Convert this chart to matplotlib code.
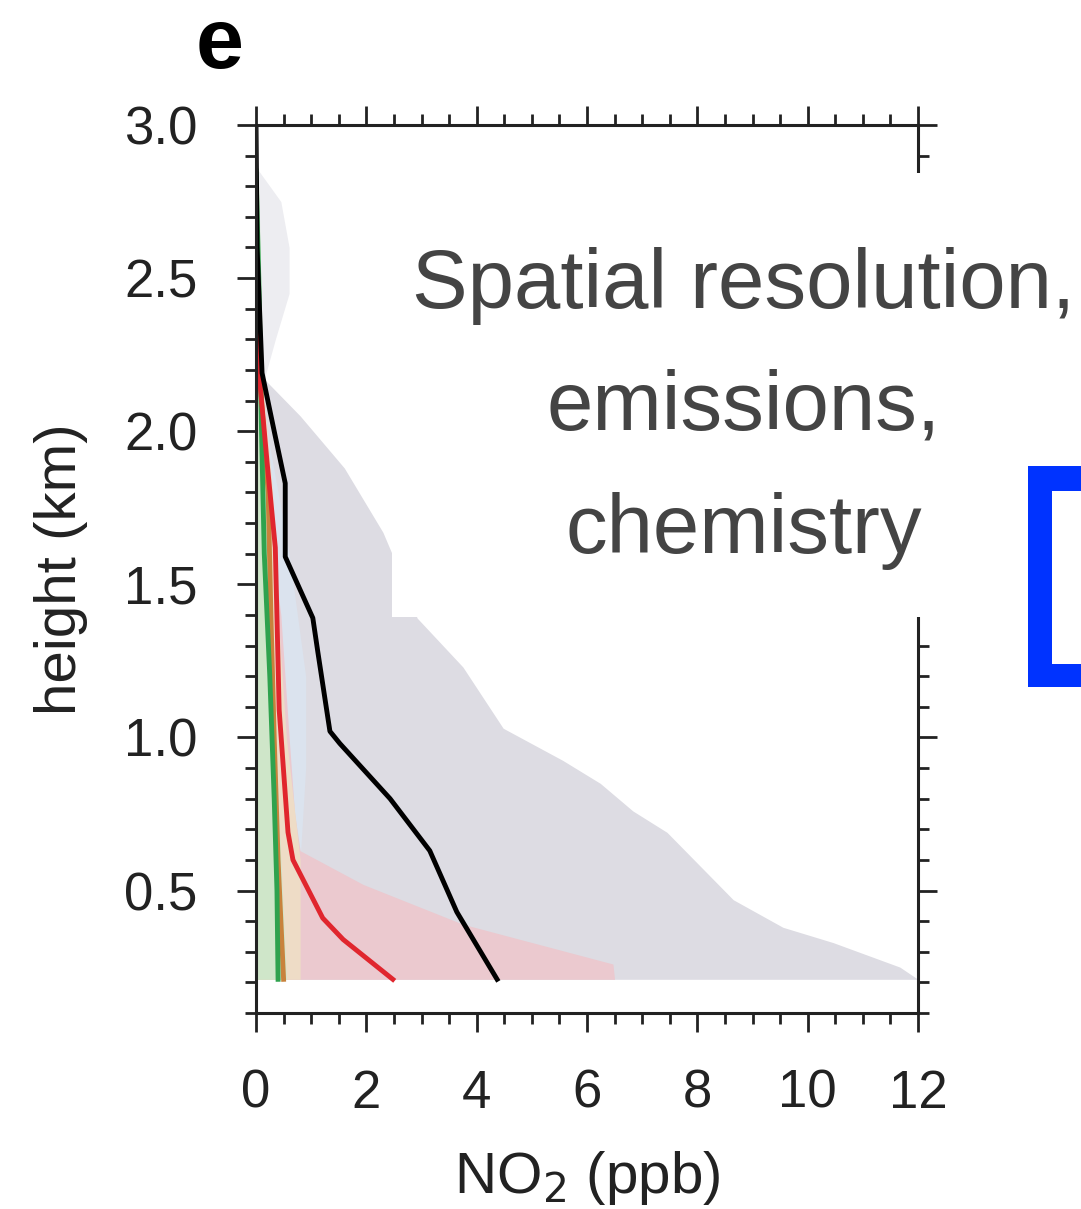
import numpy as np
import matplotlib
matplotlib.use("Agg")
import matplotlib.pyplot as plt
from matplotlib import font_manager
from matplotlib.patches import Rectangle
from matplotlib.ticker import MultipleLocator

# pick a narrow face for the chart text if it is there
names = {f.name for f in font_manager.fontManager.ttflist}
NARROW = "Liberation Sans Narrow" if "Liberation Sans Narrow" in names else "Liberation Sans"

W, H = 1081, 1209

# profiles, height (km) vs NO2 (ppb)
black_h = [3.0, 2.6, 2.19, 2.0, 1.83, 1.59, 1.39, 1.28, 1.02, 0.98, 0.80, 0.63, 0.43, 0.21]
black_x = [0.0, 0.02, 0.11, 0.33, 0.53, 0.53, 1.03, 1.12, 1.34, 1.52, 2.43, 3.15, 3.64, 4.37]

red_h = [2.6, 2.2, 1.9, 1.62, 1.09, 0.69, 0.60, 0.41, 0.34, 0.21]
red_x = [0.0, 0.05, 0.2, 0.35, 0.42, 0.58, 0.67, 1.21, 1.58, 2.48]

orange_h = [2.6, 2.1, 1.8, 1.4, 1.0, 0.6, 0.21]
orange_x = [0.0, 0.1, 0.22, 0.27, 0.33, 0.4, 0.5]

green_h = [2.85, 2.5, 2.0, 1.6, 1.2, 0.8, 0.5, 0.21]
green_x = [0.0, 0.05, 0.1, 0.15, 0.25, 0.33, 0.38, 0.4]

# spread bands (right edge, left edge at 0)
grey_top_h = [2.85, 2.75, 2.6, 2.45, 2.3, 2.17]
grey_top_x = [0.05, 0.45, 0.6, 0.6, 0.35, 0.15]

grey_h = [2.17, 2.05, 1.88, 1.67, 1.5, 1.39, 1.23, 1.03, 0.925,
          0.85, 0.76, 0.69, 0.58, 0.47, 0.38, 0.33, 0.25, 0.21]
grey_x = [0.15, 0.8, 1.6, 2.3, 2.7, 2.92, 3.75, 4.48, 5.56,
          6.24, 6.83, 7.45, 8.05, 8.65, 9.55, 10.46, 11.67, 12.0]

blue_h = [2.0, 1.6, 1.2, 0.9, 0.6, 0.21]
blue_x = [0.2, 0.6, 0.9, 0.9, 0.8, 0.8]

pink_h = [1.9, 1.4, 1.0, 0.75, 0.63, 0.52, 0.39, 0.26, 0.21]
pink_x = [0.1, 0.45, 0.6, 0.7, 0.8, 1.94, 3.75, 6.47, 6.5]

tan_h = [2.2, 1.8, 1.4, 1.0, 0.6, 0.21]
tan_x = [0.1, 0.3, 0.4, 0.55, 0.8, 0.8]

lgreen_h = [2.8, 2.0, 1.2, 0.6, 0.21]
lgreen_x = [0.05, 0.15, 0.3, 0.45, 0.55]

x_ticks = [0, 2, 4, 6, 8, 10, 12]
y_ticks = [0.5, 1.0, 1.5, 2.0, 2.5, 3.0]
y_labels = ["0.5", "1.0", "1.5", "2.0", "2.5", "3.0"]


def px(x0, y0, x1, y1):
    # pixel box -> figure fraction rect
    return (x0 / W, 1 - y1 / H, (x1 - x0) / W, (y1 - y0) / H)


fig = plt.figure(figsize=(W / 100, H / 100), dpi=100)
ax = fig.add_axes([256 / W, 1 - 1013 / H, 662 / W, 888 / H])

ax.fill_betweenx(grey_top_h, 0, grey_top_x, color="#ededf1", lw=0)
ax.fill_betweenx(grey_h, 0, grey_x, color="#dddce3", lw=0)
ax.fill_betweenx(blue_h, 0, blue_x, color="#dbe3ee", lw=0)
ax.fill_betweenx(pink_h, 0, pink_x, color="#ebc9cf", lw=0)
ax.fill_betweenx(tan_h, 0, tan_x, color="#eedcc6", lw=0)
ax.fill_betweenx(lgreen_h, 0, lgreen_x, color="#cfe6c9", lw=0)

ax.plot(orange_x, orange_h, color="#c8823c", lw=3.5)
ax.plot(green_x, green_h, color="#2fa24e", lw=3.5)
ax.plot(red_x, red_h, color="#e0262e", lw=3.5)
ax.plot(black_x, black_h, color="black", lw=3.5)

ax.set_xlim(0, 12)
ax.set_ylim(0.1, 3.0)
ax.set_xticks(x_ticks)
ax.set_yticks(y_ticks, y_labels)
ax.xaxis.set_minor_locator(MultipleLocator(0.5))
ax.yaxis.set_minor_locator(MultipleLocator(0.1))
ax.tick_params(which="both", direction="out", top=True, right=True, width=2, color="#222222")
ax.tick_params(which="major", length=14)
ax.tick_params(which="minor", length=8)
ax.tick_params(axis="x", pad=26, labelsize=38)
ax.tick_params(axis="y", pad=28, labelsize=38)
for lab in ax.get_xticklabels() + ax.get_yticklabels():
    lab.set_family(NARROW)
    lab.set_color("#222222")
for s in ax.spines.values():
    s.set_linewidth(2.2)
    s.set_color("#222222")

ax.set_xlabel("NO$_2$ (ppb)", fontsize=42, family=NARROW, color="#222222", labelpad=22)
ax.set_ylabel("height (km)", fontsize=42, family="Liberation Sans", color="#222222", labelpad=26)

fig.text(220 / W, 1 - 46 / H, "e", fontsize=62, fontweight="bold", family=NARROW,
         ha="center", va="center")

# white box with annotation on top of the panel
bx = px(392, 173, 960, 617)
fig.add_artist(Rectangle(bx[:2], bx[2], bx[3], transform=fig.transFigure,
                         facecolor="white", edgecolor="none", zorder=5))
lines = ["Spatial resolution,", "emissions,", "chemistry"]
baselines = [308, 430, 553]
for t, yb in zip(lines, baselines):
    fig.text(744 / W, 1 - yb / H, t, fontsize=60, family="Liberation Sans", color="#444444",
             ha="center", va="baseline", zorder=6)

# blue bracket
blue = "#0033ff"
for box in [(1028, 466, 1052, 687), (1028, 466, 1081, 491), (1028, 664, 1081, 687)]:
    r = px(*box)
    fig.add_artist(Rectangle(r[:2], r[2], r[3], transform=fig.transFigure,
                             facecolor=blue, edgecolor="none", zorder=7))

fig.savefig("out.png", dpi=100)
